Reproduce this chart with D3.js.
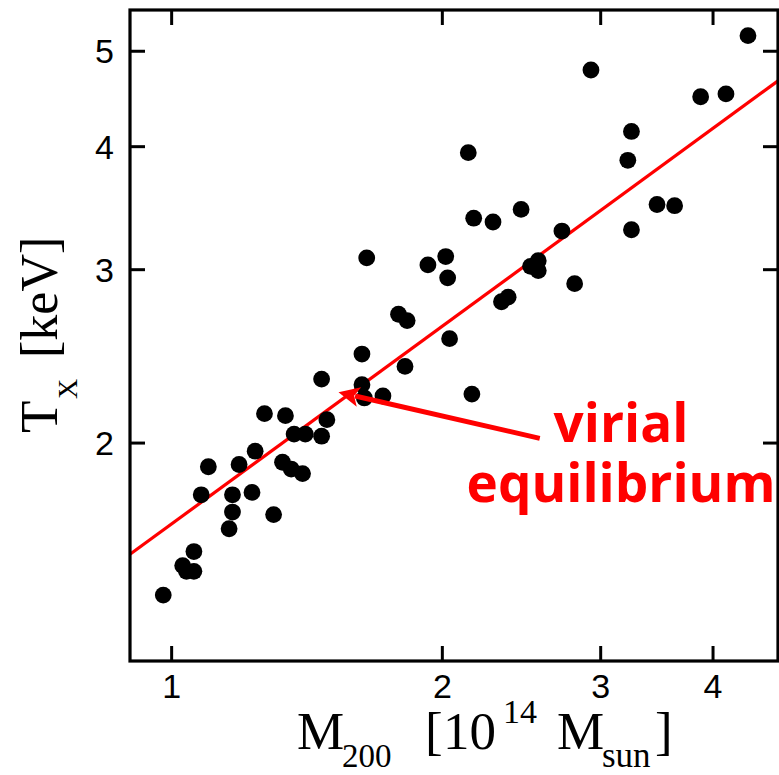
<!DOCTYPE html>
<html>
<head>
<meta charset="utf-8">
<script src="https://cdn.jsdelivr.net/npm/d3@7"></script>
<style>
  html, body { margin: 0; padding: 0; background: #fff; }
  svg { display: block; }
</style>
</head>
<body>
<svg id="chart" width="779" height="775"></svg>
<script>
// Cluster mass M200 [10^14 Msun] and X-ray temperature Tx [keV]
const mass = [4.38, 2.93, 3.88, 4.14, 3.25, 3.22, 2.14, 2.45, 2.17, 2.28,
              3.47, 3.63, 3.25, 2.72, 1.93, 2.02, 2.03, 2.51, 2.56, 2.56,
              2.81, 2.33, 2.37, 1.79, 1.83, 2.04, 1.82, 1.65, 1.63, 1.47,
              1.63, 1.64, 1.72, 2.16, 1.27, 1.34, 1.49, 1.37, 1.41, 1.47,
              1.24, 1.10, 1.19, 1.33, 1.36, 1.40, 1.08, 1.17, 1.23, 1.17,
              1.30, 1.16, 1.06, 1.03, 1.04, 1.06, 0.98];
const temp = [5.18, 4.78, 4.49, 4.52, 4.14, 3.87, 3.94, 3.45, 3.38, 3.35,
              3.49, 3.48, 3.29, 3.28, 3.03, 3.09, 2.94, 3.02, 3.06, 2.99,
              2.90, 2.78, 2.81, 2.70, 2.66, 2.55, 2.39, 3.08, 2.46, 2.32,
              2.29, 2.22, 2.23, 2.24, 2.14, 2.13, 2.11, 2.04, 2.04, 2.03,
              1.96, 1.89, 1.90, 1.91, 1.88, 1.86, 1.77, 1.77, 1.78, 1.70,
              1.69, 1.635, 1.55, 1.50, 1.48, 1.48, 1.40];

// Virial relation T ∝ M^(2/3), end points across the plot
const fitMass = [0.9, 4.73];
const fitTemp = [1.54, 4.66];

// Annotation arrow: tail near the label, head on the relation
const arrowMass = [2.57, 1.535];
const arrowTemp = [2.02, 2.25];
const annotationLines = ["virial", "equilibrium"];

const xTicks = [1, 2, 3, 4];
const yTicks = [2, 3, 4, 5];

const svg = d3.select("#chart");
const plotLeft = 130, plotRight = 778, plotTop = 10, plotBottom = 661;

const x = d3.scaleLog().domain([0.9, 4.73]).range([plotLeft, plotRight]);
const y = d3.scaleLog().domain([1.2, 5.5]).range([plotBottom, plotTop]);

// Relation line
svg.append("line")
  .attr("x1", x(fitMass[0])).attr("y1", y(fitTemp[0]))
  .attr("x2", x(fitMass[1])).attr("y2", y(fitTemp[1]))
  .attr("stroke", "#ff0000").attr("stroke-width", 3.2);

// Data points
svg.append("g").selectAll("circle")
  .data(mass.map((m, i) => [m, temp[i]]))
  .join("circle")
  .attr("cx", d => x(d[0]))
  .attr("cy", d => y(d[1]))
  .attr("r", 8.4)
  .attr("fill", "#000");

// Axes: ticks point inward on all four sides
const tickFmt = d3.format("d");
const axisFont = g => g.selectAll("text")
  .attr("font-family", "'Liberation Sans', Arial, sans-serif")
  .attr("font-size", 34).attr("fill", "#000");
const axisStyle = g => {
  g.select(".domain").remove();
  g.selectAll(".tick line").attr("stroke", "#000").attr("stroke-width", 3);
};

svg.append("g").attr("transform", `translate(0,${plotBottom})`)
  .call(d3.axisBottom(x).tickValues(xTicks).tickFormat(tickFmt).tickSizeInner(-15).tickPadding(13))
  .call(axisStyle).call(axisFont)
  .selectAll("text").attr("dy", "0.72em");

svg.append("g").attr("transform", `translate(0,${plotTop})`)
  .call(d3.axisTop(x).tickValues(xTicks).tickFormat("").tickSizeInner(-15))
  .call(axisStyle);

svg.append("g").attr("transform", `translate(${plotLeft},0)`)
  .call(d3.axisLeft(y).tickValues(yTicks).tickFormat(tickFmt).tickSizeInner(-15).tickPadding(16))
  .call(axisStyle).call(axisFont)
  .selectAll("text").attr("dy", "0.35em");

svg.append("g").attr("transform", `translate(${plotRight},0)`)
  .call(d3.axisRight(y).tickValues(yTicks).tickFormat("").tickSizeInner(-15))
  .call(axisStyle);

// Frame
svg.append("rect")
  .attr("x", plotLeft).attr("y", plotTop)
  .attr("width", plotRight - plotLeft).attr("height", plotBottom - plotTop)
  .attr("fill", "none").attr("stroke", "#000").attr("stroke-width", 3.2);

// Annotation arrow
const ax0 = x(arrowMass[0]), ay0 = y(arrowTemp[0]);
const ax1 = x(arrowMass[1]), ay1 = y(arrowTemp[1]);
const ang = Math.atan2(ay1 - ay0, ax1 - ax0);
const headLen = 21, headHalf = 10;
const ux = Math.cos(ang), uy = Math.sin(ang);
const bx = ax1 - ux * headLen, by = ay1 - uy * headLen;
svg.append("line")
  .attr("x1", ax0).attr("y1", ay0)
  .attr("x2", bx + ux * 4).attr("y2", by + uy * 4)
  .attr("stroke", "#ff0000").attr("stroke-width", 5);
svg.append("path")
  .attr("d", `M${ax1},${ay1} L${bx - uy * headHalf},${by + ux * headHalf} L${bx + ux * 5},${by + uy * 5} L${bx + uy * headHalf},${by - ux * headHalf} Z`)
  .attr("fill", "#ff0000");

// Annotation text
const note = svg.append("text")
  .attr("font-family", "'Open Sans', Lato, sans-serif")
  .attr("font-weight", "bold")
  .attr("font-size", 53)
  .attr("fill", "#ff0000")
  .attr("text-anchor", "middle");
note.selectAll("tspan").data(annotationLines).join("tspan")
  .attr("x", 621)
  .attr("y", (d, i) => 442 + i * 60)
  .text(d => d);

// Axis titles (serif)
const serif = "'Liberation Serif', 'Times New Roman', serif";

const xt = svg.append("text").attr("font-family", serif).attr("fill", "#000");
[
  { t: "M", x: 297, y: 749, s: 53 },
  { t: "200", x: 342, y: 767, s: 33 },
  { t: "[", x: 425, y: 749, s: 53 },
  { t: "10", x: 443, y: 749, s: 53 },
  { t: "14", x: 503, y: 723, s: 34 },
  { t: "M", x: 557, y: 749, s: 53 },
  { t: "sun", x: 602, y: 767, s: 35 },
  { t: "]", x: 655, y: 749, s: 53 }
].forEach(p => xt.append("tspan").attr("x", p.x).attr("y", p.y).attr("font-size", p.s).text(p.t));

const yt = svg.append("text").attr("font-family", serif).attr("fill", "#000")
  .attr("transform", "translate(57,433) rotate(-90)");
[
  { t: "T", x: 0, y: 0, s: 53 },
  { t: "X", x: 34, y: 20, s: 28 },
  { t: "[keV]", x: 75, y: 0, s: 52 }
].forEach(p => yt.append("tspan").attr("x", p.x).attr("y", p.y).attr("font-size", p.s).text(p.t));
</script>
</body>
</html>
